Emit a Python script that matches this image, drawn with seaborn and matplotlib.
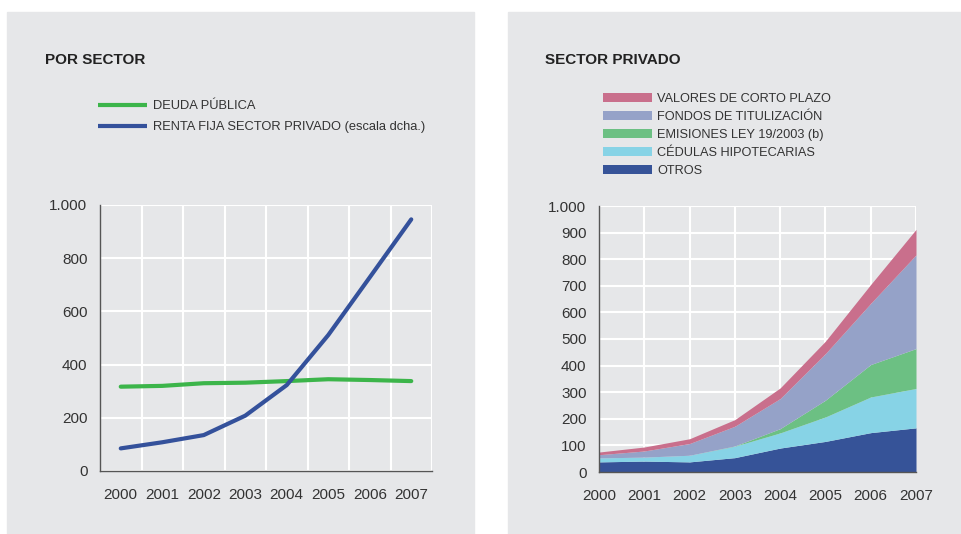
import numpy as np
import pandas as pd
import matplotlib
matplotlib.use("Agg")
import matplotlib.pyplot as plt
from matplotlib.patches import Rectangle, Patch
from matplotlib.ticker import FuncFormatter
import seaborn as sns

# datos
anios = ["2000", "2001", "2002", "2003", "2004", "2005", "2006", "2007"]
deuda_publica = [317, 320, 330, 332, 338, 345, 342, 338]
renta_fija_privada = [85, 108, 135, 208, 323, 511, 728, 946]

otros = [38, 41, 38, 54, 90, 115, 148, 166]
cedulas = [15, 15, 25, 43, 57, 92, 134, 148]
emisiones = [0, 0, 0, 1, 16, 63, 122, 150]
fondos = [12, 23, 44, 74, 113, 175, 230, 352]
valores_cp = [10, 15, 18, 25, 40, 47, 71, 96]

fondo = "#e6e7e9"
texto = "#333333"
eje = "#555555"

sns.set_style("white")
plt.rcParams["font.family"] = ["Liberation Sans", "DejaVu Sans"]
plt.rcParams["text.color"] = texto

fig = plt.figure(figsize=(9.62, 5.34), dpi=100)
fig.patch.set_facecolor("white")
W, H = 962, 534

def px(x0, y0, x1, y1):
    # rectangulo en pixeles (origen arriba-izquierda) -> fraccion de figura
    return [x0 / W, 1 - y1 / H, (x1 - x0) / W, (y1 - y0) / H]

for x0, x1 in [(7, 474), (508, 962)]:
    fig.patches.append(Rectangle((x0 / W, 0), (x1 - x0) / W, 1 - 12 / H,
                                 transform=fig.transFigure, color=fondo, zorder=-1))

miles = FuncFormatter(lambda v, p: f"{int(v):,}".replace(",", "."))

def estilo(ax):
    ax.set_facecolor(fondo)
    for s in ["top", "right"]:
        ax.spines[s].set_visible(False)
    for s in ["left", "bottom"]:
        ax.spines[s].set_color(eje)
        ax.spines[s].set_linewidth(1.0)
        ax.spines[s].set_zorder(5)
    ax.tick_params(length=0, labelsize=11, colors=texto)
    ax.tick_params(axis="y", pad=9)
    ax.tick_params(axis="x", pad=12)
    ax.yaxis.set_major_formatter(miles)
    ax.set_xlabel("")
    ax.set_ylabel("")

# --- panel izquierdo: por sector
ax1 = fig.add_axes(px(100, 205, 432, 471))
df1 = pd.DataFrame({
    "Año": anios * 2,
    "Valor": deuda_publica + renta_fija_privada,
    "Serie": ["DEUDA PÚBLICA"] * 8 + ["RENTA FIJA SECTOR PRIVADO (escala dcha.)"] * 8,
})
sns.lineplot(data=df1, x="Año", y="Valor", hue="Serie",
             palette=["#3cb54a", "#34519b"], linewidth=3.0, ax=ax1, legend=False, zorder=3)
estilo(ax1)
ax1.set_xlim(-0.5, 7.5)
ax1.set_ylim(0, 1000)
ax1.set_yticks(range(0, 1001, 200))
ax1.set_xticks(np.arange(-0.5, 8, 1), minor=True)
ax1.tick_params(which="minor", length=0)
ax1.grid(False)
ax1.grid(axis="y", which="major", color="white", linewidth=1.5)
ax1.grid(axis="x", which="minor", color="white", linewidth=1.5)
ax1.set_axisbelow(True)

h1 = [plt.Line2D([], [], color="#3cb54a", lw=3.0, solid_capstyle="butt"),
      plt.Line2D([], [], color="#34519b", lw=3.0, solid_capstyle="butt")]
fig.legend(h1, ["DEUDA PÚBLICA", "RENTA FIJA SECTOR PRIVADO (escala dcha.)"],
           loc="upper left", bbox_to_anchor=(98 / W, 1 - 100 / H), frameon=False,
           fontsize=9.3, handlelength=3.8, handletextpad=0.45, labelspacing=0.7,
           borderpad=0, borderaxespad=0)
fig.text(45 / W, 1 - 60 / H, "POR SECTOR", fontsize=11, fontweight="bold",
         va="center", ha="left", color="#222222")

# --- panel derecho: sector privado
ax2 = fig.add_axes(px(599, 206, 916, 472))
x2 = [int(a) for a in anios]
series = [otros, cedulas, emisiones, fondos, valores_cp]
colores = ["#365398", "#87d3e6", "#6cc083", "#95a2c8", "#c96f8c"]
ax2.stackplot(x2, *series, colors=colores, linewidth=0, zorder=3)
estilo(ax2)
ax2.set_xlim(2000, 2007)
ax2.set_ylim(0, 1000)
ax2.set_yticks(range(0, 1001, 100))
ax2.set_xticks(x2)
ax2.set_xticklabels(anios)
ax2.grid(False)
ax2.grid(color="white", linewidth=1.5)
ax2.set_axisbelow(True)

nombres = ["VALORES DE CORTO PLAZO", "FONDOS DE TITULIZACIÓN",
           "EMISIONES LEY 19/2003 (b)", "CÉDULAS HIPOTECARIAS", "OTROS"]
h2 = [Patch(facecolor=c, edgecolor="none") for c in colores[::-1]]
fig.legend(h2, nombres, loc="upper left", bbox_to_anchor=(603 / W, 1 - 93 / H),
           frameon=False, fontsize=9.2, handlelength=3.8, handleheight=0.62,
           handletextpad=0.45, labelspacing=0.47, borderpad=0, borderaxespad=0)
fig.text(545 / W, 1 - 60 / H, "SECTOR PRIVADO", fontsize=11, fontweight="bold",
         va="center", ha="left", color="#222222")

fig.savefig("out.png", dpi=100, facecolor="white")
